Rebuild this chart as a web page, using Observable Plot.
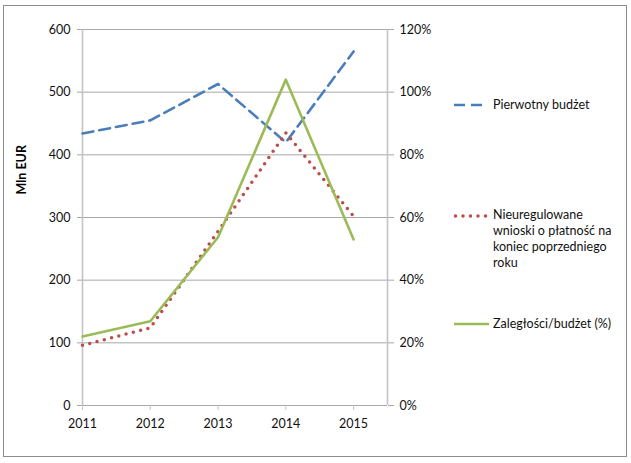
<!DOCTYPE html>
<html><head><meta charset="utf-8">
<script src="https://cdn.jsdelivr.net/npm/d3@7"></script>
<script src="https://cdn.jsdelivr.net/npm/@observablehq/plot@0.6"></script>
<style>
body{margin:0;background:#fff;font-family:Lato,"Open Sans",sans-serif;}
#wrap{position:relative;width:631px;height:463px;overflow:hidden}
#wrap svg.plot{position:absolute;left:0;top:0}
#frame{position:absolute;left:3px;top:5px;width:624px;height:452px;border:1px solid #8c8c8c;box-sizing:border-box;pointer-events:none}
.leg{position:absolute;font-size:12.5px;line-height:16px;color:#111;white-space:nowrap}
.sw{position:absolute}
</style></head><body>
<div id="wrap"><div id="frame"></div></div>
<script>
// Data
const years = [2011, 2012, 2013, 2014, 2015];
const budget = [434, 455, 513, 420, 565];          // Pierwotny budżet (Mln EUR)
const unsettled = [96, 124, 278, 435, 302];        // Nieuregulowane wnioski ... (Mln EUR)
const arrearsPct = [22.0, 26.9, 53.7, 104.0, 53.0]; // Zaległości/budżet (%)
const leftTicks = [0, 100, 200, 300, 400, 500, 600];
const rightTicks = [0, 20, 40, 60, 80, 100, 120];
const rightTickLabels = ["0%", "20%", "40%", "60%", "80%", "100%", "120%"];
const xTickLabels = ["2011", "2012", "2013", "2014", "2015"];
const seriesNames = ["Pierwotny budżet", "Nieuregulowane wnioski o płatność na koniec poprzedniego roku", "Zaległości/budżet (%)"];

const leftMax = 600, rightMax = 120, k = leftMax / rightMax; // secondary axis mapped onto primary
const rows = years.map((yr, i) => ({year: yr, budget: budget[i], unsettled: unsettled[i], pct: arrearsPct[i] * k}));

const colBlue = "#4A7EBB", colRed = "#BE4B48", colGreen = "#9BBB59";
const gridCol = "#a8a8a8", axisCol = "#c4c4c4";

const chart = Plot.plot({
  width: 631, height: 463,
  marginLeft: 82, marginRight: 244, marginTop: 29, marginBottom: 58,
  style: {fontFamily: "Lato, 'Open Sans', sans-serif", fontSize: "12.5px", background: "transparent", color: "#111"},
  x: {domain: [2011, 2015.5]},
  y: {domain: [0, leftMax]},
  marks: [
    Plot.ruleY(leftTicks, {stroke: gridCol, strokeWidth: 1}),
    Plot.ruleX([2011, 2015.5], {stroke: axisCol, strokeWidth: 1.6}),
    // left axis
    Plot.axisY({anchor: "left", ticks: leftTicks, tickSize: 5, text: null, stroke: gridCol, label: null}),
    Plot.axisY({anchor: "left", ticks: leftTicks, tickSize: 0, tickPadding: 12, label: null, fill: "#111"}),
    // right axis
    Plot.axisY({anchor: "right", ticks: leftTicks, tickSize: 6, text: null, stroke: gridCol, label: null}),
    Plot.axisY({anchor: "right", ticks: rightTicks.map(p => p * k), tickSize: 0, tickPadding: 12, label: null, fill: "#111",
      tickFormat: (d) => rightTickLabels[rightTicks.indexOf(d / k)]}),
    // x axis
    Plot.axisX({ticks: years, tickSize: 5, text: null, stroke: axisCol, label: null}),
    Plot.axisX({ticks: years, tickSize: 0, tickPadding: 14, label: null, fill: "#111",
      tickFormat: (d) => xTickLabels[years.indexOf(d)]}),
    Plot.text(["Mln EUR"], {frameAnchor: "left", dx: -61, dy: -23, rotate: -90, fontWeight: "bold", fontSize: 12.5, fill: "#000"}),
    // series
    Plot.line(rows, {x: "year", y: "budget", stroke: colBlue, strokeWidth: 2.6, strokeDasharray: "11,6"}),
    Plot.line(rows, {x: "year", y: "unsettled", stroke: colRed, strokeWidth: 3.5, strokeDasharray: "0,7.5", strokeLinecap: "round"}),
    Plot.line(rows, {x: "year", y: "pct", stroke: colGreen, strokeWidth: 2.6})
  ]
});
chart.classList.add("plot");
const wrap = document.getElementById("wrap");
wrap.insertBefore(chart, wrap.firstChild);

// Legend (right side)
function swatch(top, left, w, color, dash, width, cap) {
  const ns = "http://www.w3.org/2000/svg";
  const s = document.createElementNS(ns, "svg");
  s.setAttribute("class", "sw");
  s.setAttribute("width", w + 4); s.setAttribute("height", 8);
  s.style.left = (left - 2) + "px"; s.style.top = (top - 4) + "px";
  const l = document.createElementNS(ns, "line");
  l.setAttribute("x1", 2 + (cap ? 1.5 : 0)); l.setAttribute("x2", w + 2); l.setAttribute("y1", 4); l.setAttribute("y2", 4);
  l.setAttribute("stroke", color); l.setAttribute("stroke-width", width);
  if (dash) l.setAttribute("stroke-dasharray", dash);
  if (cap) l.setAttribute("stroke-linecap", cap);
  s.appendChild(l);
  wrap.appendChild(s);
}
function label(top, html) {
  const d = document.createElement("div");
  d.className = "leg"; d.style.left = "493px"; d.style.top = top + "px";
  d.innerHTML = html;
  wrap.appendChild(d);
}
swatch(105, 454, 28, colBlue, "11,6", 2.6);
label(97, seriesNames[0]);
swatch(215.5, 454, 33, colRed, "0,7.5", 3.5, "round");
label(207, "Nieuregulowane<br>wnioski o płatność na<br>koniec poprzedniego<br>roku");
swatch(324, 454, 35, colGreen, null, 2.6);
label(316, seriesNames[2]);
</script>
</body></html>
